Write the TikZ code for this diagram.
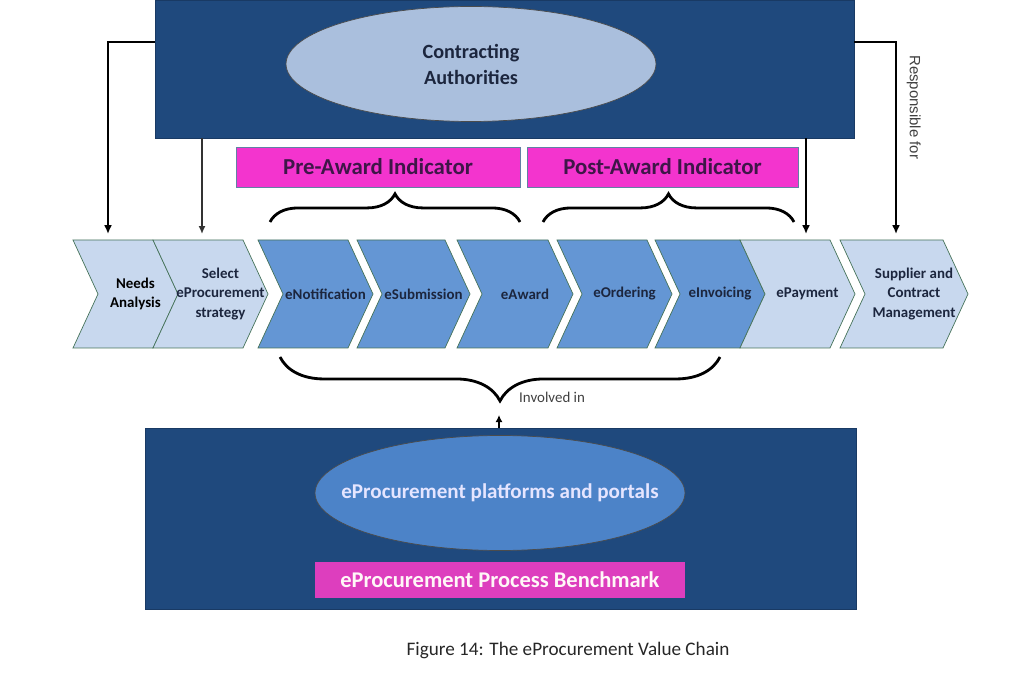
\documentclass[tikz,border=0pt]{standalone}
\usepackage{fontspec}
\setmainfont{Carlito}
\newfontfamily\arialfont{Liberation Sans}
\usepackage{tikz}
\usetikzlibrary{arrows.meta}
\usetikzlibrary{shapes.geometric}
\usetikzlibrary{decorations.pathreplacing}

\definecolor{navy}{RGB}{31,73,125}
\definecolor{palesky}{RGB}{170,191,221}
\definecolor{chevlight}{RGB}{200,216,238}
\definecolor{chevdark}{RGB}{100,150,212}
\definecolor{chevedge}{RGB}{70,115,90}
\definecolor{hotpink}{RGB}{243,52,206}
\definecolor{deeppink}{RGB}{221,62,190}
\definecolor{plum}{RGB}{62,22,72}
\definecolor{portal}{RGB}{76,131,200}
\definecolor{inktext}{RGB}{28,38,62}

\begin{document}
\begin{tikzpicture}[x=0.02cm,y=-0.02cm,
    navybox/.style={draw=navy!80!black,fill=navy,minimum height=2.76cm},
    oval/.style={ellipse,draw=black!70,fill=#1,inner sep=0pt,
      minimum width=7.4cm,minimum height=2.3cm},
    tag/.style={draw=navy!70,fill=hotpink,text=plum,minimum height=0.8cm,
      font=\fontsize{13}{15}\selectfont\bfseries},
    chevtext/.style={align=center,inner sep=1pt,
      font=\fontsize{8.5}{11.2}\selectfont\bfseries},
    feed/.style={line width=1.6pt,-{Latex[length=5pt,width=4.5pt]}},
    upbrace/.style={line width=1.6pt,decorate,decoration={brace,amplitude=16pt}}]

  \useasboundingbox (0,0) rectangle (1024,675);

  \coordinate (yl) at (0,42);
  \coordinate (needsin) at (108,234);
  \coordinate (selin) at (202,234);
  \coordinate (payin) at (806,234);
  \coordinate (supin) at (896,234);
  \coordinate (invarr) at (499,415);

  % contracting authorities
  \node[navybox,minimum width=13.98cm] (cabox) at (504.5,69) {};
  \node[oval=palesky,label={[align=center,text=inktext,
    font=\fontsize{11.5}{14.8}\selectfont\bfseries]center:Contracting\\Authorities}]
    (ca) at (471,64) {};

  \node[tag,minimum width=5.68cm] (pre) at (378,167) {Pre-Award Indicator};
  \node[tag,minimum width=5.42cm] (post) at (662.5,167) {Post-Award Indicator};

  \draw[upbrace] (270,222) -- (520,222); % pre
  \draw[upbrace] (543,222) -- (794,222); % post

  % value chain
  \foreach \name/\l/\t/\col/\ink/\txt in {
      needs/73/178/chevlight/black/{Needs\\Analysis},
      select/153/268/chevlight/inktext/{Select\\eProcurement\\strategy},
      enot/258/373/chevdark/inktext/eNotification,
      esub/357/470/chevdark/inktext/eSubmission,
      eaward/457/573/chevdark/inktext/eAward,
      eorder/557/672/chevdark/inktext/eOrdering,
      einv/655/765/chevdark/inktext/eInvoicing,
      epay/740/855/chevlight/inktext/ePayment,
      supply/840/968/chevlight/inktext/{Supplier and\\Contract\\Management}} {
    \draw[chevedge,fill=\col] (\l,240) -- ({\t-25},240) -- (\t,294)
      -- ({\t-25},348) -- (\l,348) -- ({\l+25},294) -- cycle;
    \node[chevtext,text=\ink] (\name) at ({(\l+\t)/2+10},294) {\txt};
  }

  \draw[feed] (cabox.west |- yl) -| (needsin);
  \draw[line width=1.1pt,black!80,-{Latex[length=4.5pt,width=4pt]}]
    (cabox.south -| selin) -- (selin);
  \draw[feed] (cabox.east |- yl) -| (supin)
    node[pos=0.67,right=2pt,rotate=-90,anchor=south,text=black!75,
      font=\arialfont\fontsize{8.5}{10}\selectfont] {Responsible for};
  \draw[feed] (cabox.south -| payin) -- (payin);

  \draw[upbrace,decoration={amplitude=25pt}] (720,357) -- (280,357); % involved
  \draw[line width=1.1pt,-{Latex[length=4pt,width=4pt]}]
    (499,428) -- (invarr);
  \node[anchor=west,text=black!75,font=\fontsize{8.5}{10}\selectfont]
    (inv) at (513,397) {Involved in};

  % platforms
  \node[navybox,minimum width=14.22cm,minimum height=3.62cm] (platbox)
    at (500.5,518.5) {};
  \node[oval=portal,label={[text=white!90!blue,
    font=\fontsize{12}{14}\selectfont\bfseries]center:eProcurement platforms and portals}]
    (portals) at (500,493) {};
  \node[fill=deeppink,minimum width=7.4cm,minimum height=0.72cm,
    text=white!88!pink,font=\fontsize{12.8}{14}\selectfont\bfseries]
    (bench) at (500,580) {eProcurement Process Benchmark};

  \node[text=black!85,font=\fontsize{10.9}{12}\selectfont]
    (caption) at (568,650) {Figure 14: The eProcurement Value Chain};
\end{tikzpicture}
\end{document}
